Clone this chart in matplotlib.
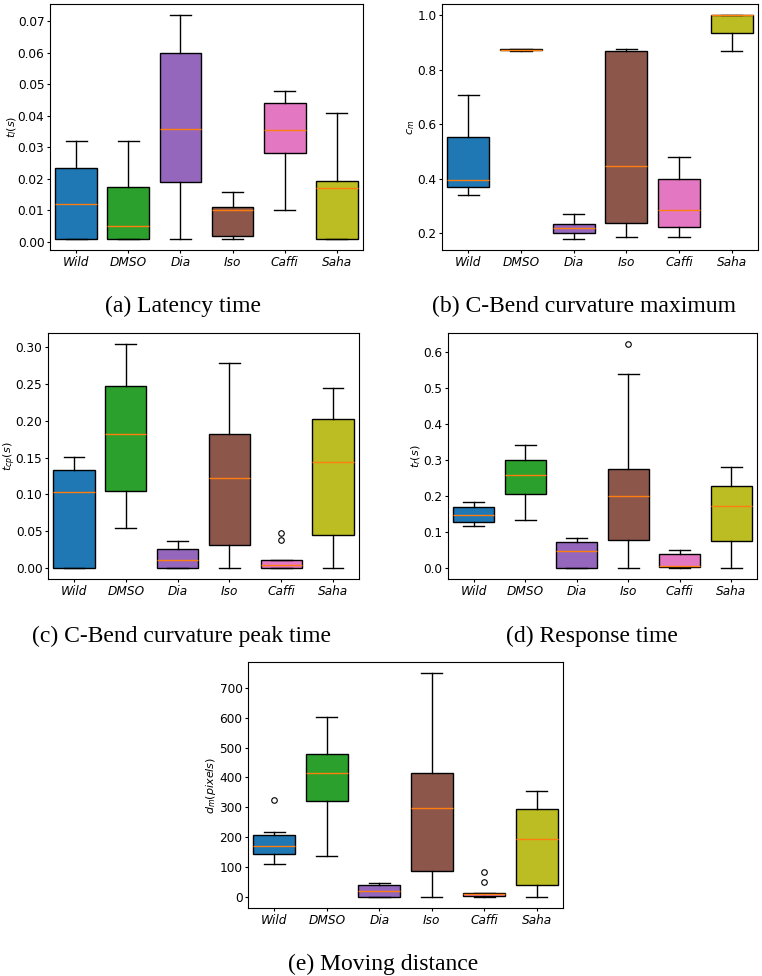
"""Box plots of the startle response measures for the six groups."""
import numpy as np
import matplotlib
matplotlib.use("Agg")
import matplotlib.pyplot as plt

# -------------------------------------------------------
# Data (box statistics).
# -------------------------------------------------------
groups = ["Wild", "DMSO", "Dia", "Iso", "Caffi", "Saha"]
colors = ["tab:blue", "tab:green", "tab:purple", "tab:brown", "tab:pink", "tab:olive"]

# (a) latency time
lat_lo = [0.001, 0.001, 0.001, 0.001, 0.010, 0.001]
lat_q1 = [0.001, 0.001, 0.019, 0.002, 0.0283, 0.001]
lat_med = [0.012, 0.005, 0.036, 0.010, 0.0355, 0.017]
lat_q3 = [0.0234, 0.0175, 0.060, 0.011, 0.044, 0.0195]
lat_hi = [0.032, 0.032, 0.072, 0.016, 0.048, 0.041]
lat_fl = [[], [], [], [], [], []]

# (b) C-bend curvature maximum
cm_lo = [0.340, 0.870, 0.180, 0.187, 0.187, 0.868]
cm_q1 = [0.371, 0.871, 0.203, 0.239, 0.223, 0.935]
cm_med = [0.396, 0.874, 0.221, 0.448, 0.287, 1.000]
cm_q3 = [0.554, 0.876, 0.233, 0.869, 0.400, 1.000]
cm_hi = [0.707, 0.876, 0.271, 0.876, 0.481, 1.000]
cm_fl = [[], [], [], [], [], []]

# (c) C-bend curvature peak time
cp_lo = [0.0, 0.054, 0.0, 0.0, 0.0, 0.0]
cp_q1 = [0.0, 0.1042, 0.0, 0.0317, 0.0, 0.0449]
cp_med = [0.1029, 0.1817, 0.0104, 0.1219, 0.0036, 0.1437]
cp_q3 = [0.1332, 0.2479, 0.0258, 0.1826, 0.0104, 0.2021]
cp_hi = [0.1504, 0.3045, 0.0363, 0.2792, 0.0104, 0.2452]
cp_fl = [[], [], [], [], [0.038, 0.047], []]

# (d) response time
rt_lo = [0.117, 0.134, 0.0, 0.0, 0.0, 0.0]
rt_q1 = [0.127, 0.207, 0.0, 0.077, 0.002, 0.075]
rt_med = [0.146, 0.258, 0.046, 0.199, 0.005, 0.173]
rt_q3 = [0.170, 0.299, 0.071, 0.274, 0.038, 0.227]
rt_hi = [0.182, 0.343, 0.082, 0.539, 0.049, 0.282]
rt_fl = [[], [], [], [0.623], [], []]

# (e) moving distance
md_lo = [109, 136, 0, 0, 0, 0]
md_q1 = [144, 322, 0, 88, 2, 40]
md_med = [169, 416, 21, 296, 8, 195]
md_q3 = [208, 477, 38, 416, 13, 295]
md_hi = [218, 601, 47, 749, 13, 356]
md_fl = [[324], [], [], [], [50, 82], []]

# -------------------------------------------------------
# Plot.
# -------------------------------------------------------
W, H = 762, 976
fig = plt.figure(figsize=(W / 100, H / 100), dpi=100)


def px_axes(left, right, top, bottom):
    return fig.add_axes([left / W, 1 - bottom / H, (right - left) / W, (bottom - top) / H])


def draw(ax, lo, q1, med, q3, hi, fl, ylabel, label_x):
    stats = []
    for i in range(len(groups)):
        stats.append(dict(whislo=lo[i], q1=q1[i], med=med[i], q3=q3[i],
                          whishi=hi[i], fliers=fl[i], label=groups[i]))
    bp = ax.bxp(
        stats,
        widths=0.8,
        patch_artist=True,
        showfliers=True,
        medianprops=dict(color="tab:orange", linewidth=1),
        flierprops=dict(marker="o", markersize=4, markerfacecolor="none",
                        markeredgecolor="black", markeredgewidth=0.8),
    )
    for patch, c in zip(bp["boxes"], colors):
        patch.set_facecolor(c)
        patch.set_edgecolor("black")
    ax.set_ylabel(ylabel, fontsize=8)
    ax.yaxis.set_label_coords(label_x, 0.5)
    ax.tick_params(labelsize=8.7, length=2.5, pad=1.5)
    for t in ax.get_xticklabels():
        t.set_style("italic")


ax_a = px_axes(50, 363, 4, 250)
draw(ax_a, lat_lo, lat_q1, lat_med, lat_q3, lat_hi, lat_fl, "$t_l(s)$", -0.10)
ax_b = px_axes(442, 758, 4, 250)
draw(ax_b, cm_lo, cm_q1, cm_med, cm_q3, cm_hi, cm_fl, "$c_m$", -0.08)
ax_b.set_yticks([0.2, 0.4, 0.6, 0.8, 1.0])
ax_c = px_axes(48, 359, 333, 579)
draw(ax_c, cp_lo, cp_q1, cp_med, cp_q3, cp_hi, cp_fl, "$t_{cp}(s)$", -0.096)
ax_d = px_axes(448, 757, 333, 579)
draw(ax_d, rt_lo, rt_q1, rt_med, rt_q3, rt_hi, rt_fl, "$t_r(s)$", -0.082)
ax_e = px_axes(248, 563, 662, 908)
draw(ax_e, md_lo, md_q1, md_med, md_q3, md_hi, md_fl, "$d_m(pixels)$", -0.095)

# captions under each panel:
captions = [
    (183, 312, "(a) Latency time"),
    (584, 312, "(b) C-Bend curvature maximum"),
    (182, 642, "(c) C-Bend curvature peak time"),
    (592, 642, "(d) Response time"),
    (383, 970, "(e) Moving distance"),
]
for x, y, s in captions:
    fig.text(x / W, 1 - y / H, s, ha="center", va="baseline",
             fontsize=17, family="Liberation Serif")

fig.savefig("out.png", dpi=100)
